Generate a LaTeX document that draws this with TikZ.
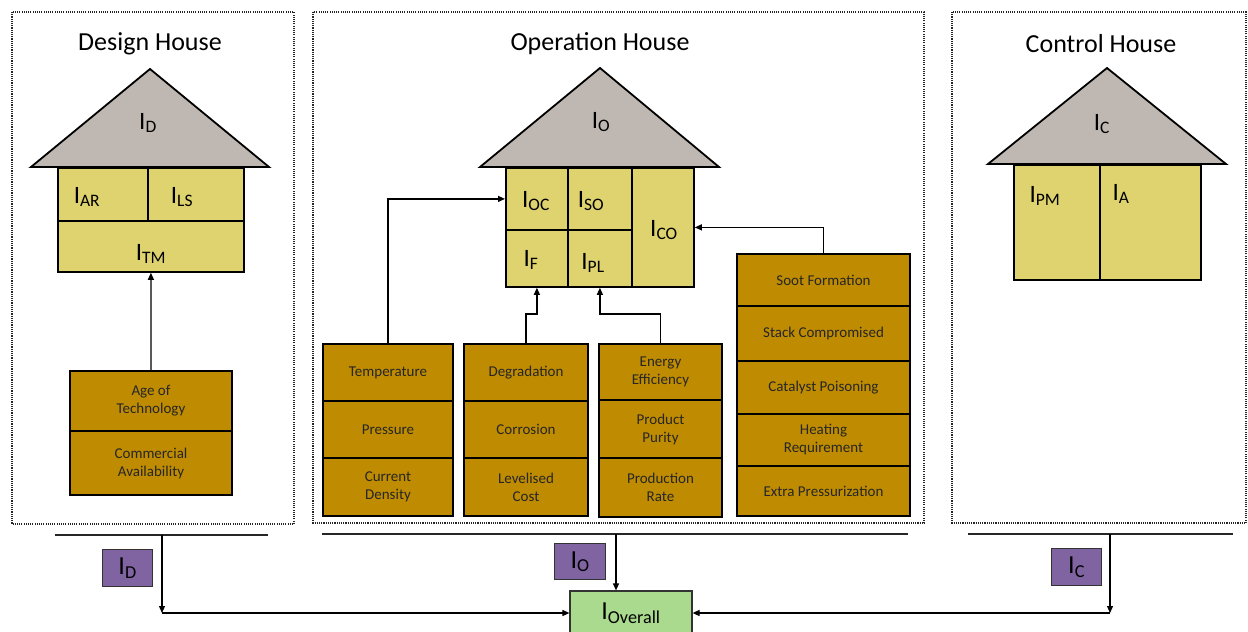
\documentclass[tikz,border=0pt]{standalone}
\usepackage{fontspec}
\setmainfont{Carlito}
\usetikzlibrary{arrows.meta}
\definecolor{roofgray}{RGB}{191,184,178}
\definecolor{bodyyel}{RGB}{222,211,110}
\definecolor{brownc}{RGB}{191,139,0}
\definecolor{purplec}{RGB}{128,100,162}
\definecolor{greenc}{RGB}{169,218,141}
\begin{document}
\begin{tikzpicture}[x=1pt,y=-1pt,
  frame/.style={draw=black!85, line width=1.3pt, dash pattern=on 1.1pt off 1.1pt},
  title/.style={font=\fontsize{26}{30}\selectfont, inner sep=0pt},
  roof/.style={draw, line width=1.8pt, fill=roofgray, line join=miter},
  cell/.style={draw, line width=1.8pt, fill=bodyyel, inner sep=0pt, anchor=north west},
  lbl/.style={font=\fontsize{25}{28}\selectfont, inner sep=0pt},
  bcell/.style={draw, line width=2pt, fill=brownc, inner sep=0pt, anchor=north west, align=center, font=\fontsize{15}{18}\selectfont, text=black!85},
  pbox/.style={draw=black!80, line width=1.2pt, fill=purplec, inner sep=0pt, anchor=north west, font=\fontsize{26}{28}\selectfont},
  gbox/.style={draw=black!80, line width=1.2pt, fill=greenc, inner sep=0pt, font=\fontsize{26}{28}\selectfont},
  arr/.style={-{Triangle[length=7pt,width=6pt]}, line width=1.2pt},
  bar/.style={line width=1.3pt, draw=black!85}
]
\useasboundingbox (0,0) rectangle (1248,632);

% ---------- frames ----------
\draw[frame] (12,12) rectangle (294,524);
\draw[frame] (313,12) rectangle (924,523);
\draw[frame] (952,12) rectangle (1246,523);

\node[title] (tD) at (150,44) {Design House};
\node[title] (tO) at (600,44) {Operation House};
\node[title] (tC) at (1101,44) {Control House};

% ---------- Design house ----------
\draw[roof] (31,167) -- (150,69) -- (269,167) -- cycle;
\node[lbl] (lD) at (148,123) {I\textsubscript{D}};
\node[cell, minimum width=90, minimum height=53] (ar) at (57,167) {};
\node[cell, minimum width=96, minimum height=53] (ls) at (147,167) {};
\node[cell, minimum width=186, minimum height=51] (tm) at (57,220) {};
\node[lbl] (lAR) at (87,197) {I\textsubscript{AR}};
\node[lbl] (lLS) at (182,197) {I\textsubscript{LS}};
\node[lbl] (lTM) at (151,254) {I\textsubscript{TM}};

\node[bcell, minimum width=162, minimum height=60] (age) at (69,370) {Age of\\Technology};
\node[bcell, minimum width=162, minimum height=64] (com) at (69,430) {Commercial\\Availability};
\draw[arr] (age.north) -- (tm.south);

% ---------- Operation house ----------
\draw[roof] (480,167) -- (600,68) -- (719,167) -- cycle;
\node[lbl] (lO) at (601,122) {I\textsubscript{O}};
\node[cell, minimum width=62, minimum height=62] (oc) at (505,167) {};
\node[cell, minimum width=64, minimum height=62] (so) at (567,167) {};
\node[cell, minimum width=62, minimum height=57] (fF) at (505,229) {};
\node[cell, minimum width=64, minimum height=57] (pl) at (567,229) {};
\node[cell, minimum width=62, minimum height=119] (co) at (631,167) {};
\node[lbl] (lOC) at (536,201) {I\textsubscript{OC}};
\node[lbl] (lSO) at (591,201) {I\textsubscript{SO}};
\node[lbl] (lF) at (531,260) {I\textsubscript{F}};
\node[lbl] (lPL) at (593,263) {I\textsubscript{PL}};
\node[lbl] (lCO) at (664,230) {I\textsubscript{CO}};

\node[bcell, minimum width=130, minimum height=57] (t1) at (322,343) {Temperature};
\node[bcell, minimum width=130, minimum height=57] (t2) at (322,400) {Pressure};
\node[bcell, minimum width=130, minimum height=58] (t3) at (322,457) {Current\\Density};

\node[bcell, minimum width=124, minimum height=57] (d1) at (463,343) {Degradation};
\node[bcell, minimum width=124, minimum height=57] (d2) at (463,400) {Corrosion};
\node[bcell, minimum width=124, minimum height=58] (d3) at (463,457) {Levelised\\Cost};

\node[bcell, minimum width=123, minimum height=56] (e1) at (598,343) {Energy\\Efficiency};
\node[bcell, minimum width=123, minimum height=58] (e2) at (598,399) {Product\\Purity};
\node[bcell, minimum width=123, minimum height=59] (e3) at (598,457) {Production\\Rate};

\node[bcell, minimum width=173, minimum height=52] (s1) at (736,253) {Soot Formation};
\node[bcell, minimum width=173, minimum height=55] (s2) at (736,305) {Stack Compromised};
\node[bcell, minimum width=173, minimum height=53] (s3) at (736,360) {Catalyst Poisoning};
\node[bcell, minimum width=173, minimum height=52] (s4) at (736,413) {Heating\\Requirement};
\node[bcell, minimum width=173, minimum height=50] (s5) at (736,465) {Extra Pressurization};

\draw[arr] (t1.north) |- (oc.west);
\draw[arr] (d1.north) -- ++(0,-29) -| (fF.south);
\draw[arr] (e1.north) -- ++(0,-29) -| (pl.south);
\draw[arr] (s1.north) |- (co.east);

% ---------- Control house ----------
\draw[roof] (988,164) -- (1107,68) -- (1226,164) -- cycle;
\node[lbl] (lC) at (1102,124) {I\textsubscript{C}};
\node[cell, minimum width=86, minimum height=115] (pm) at (1013,164) {};
\node[cell, minimum width=101, minimum height=115] (aa) at (1099,164) {};
\node[lbl] (lPM) at (1045,196) {I\textsubscript{PM}};
\node[lbl] (lA) at (1121,194) {I\textsubscript{A}};

% ---------- bottom ----------
\node[gbox, minimum width=122, minimum height=44] (iov) at (631,613) {I\textsubscript{Overall}};
\node[pbox, minimum width=50, minimum height=37] (pD) at (102,549) {I\textsubscript{D}};
\node[pbox, minimum width=51, minimum height=36] (pO) at (554,543) {I\textsubscript{O}};
\node[pbox, minimum width=50, minimum height=37] (pC) at (1051,548) {I\textsubscript{C}};

\coordinate (dL) at (55,535);
\coordinate (dR) at (268,535);
\coordinate (dT) at (162,535);
\coordinate (dK) at (162,613);
\coordinate (oL) at (322,534);
\coordinate (oR) at (908,534);
\coordinate (oT) at (616,534);
\coordinate (cL) at (968,534);
\coordinate (cR) at (1233,534);
\coordinate (cT) at (1110,534);
\coordinate (cK) at (1110,613);

\draw[bar] (dL) -- (dR);
\draw[bar] (oL) -- (oR);
\draw[bar] (cL) -- (cR);

\draw[arr] (dT) -- (dK);
\draw[arr] (dK) -- (iov.west);
\draw[arr] (oT) -- (oT |- iov.north);
\draw[arr] (cT) -- (cK);
\draw[arr] (cK) -- (iov.east);
\end{tikzpicture}
\end{document}
